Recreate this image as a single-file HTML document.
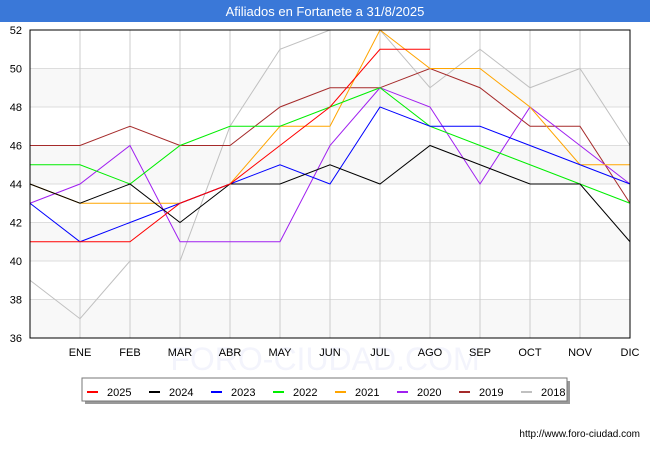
<!DOCTYPE html>
<html><head><meta charset="utf-8"><style>
body{margin:0;background:#fff;font-family:"Liberation Sans",sans-serif}
</style></head><body>
<svg id="c" width="650" height="450" xmlns="http://www.w3.org/2000/svg" style="font-family:'Liberation Sans',sans-serif">
<rect x="0" y="0" width="650" height="22" fill="#3a78d8"/>
<text x="325" y="16" text-anchor="middle" font-size="13" fill="#fff">Afiliados en Fortanete a 31/8/2025</text>
<g id="grid"></g>
<text x="325" y="370" text-anchor="middle" font-size="32" fill="#f3f4fc">FORO-CIUDAD.COM</text>
<g id="labels"></g>
<g id="lines"></g>
<rect x="30" y="30" width="600" height="308" fill="none" stroke="#000" stroke-width="1"/>
<rect x="85" y="381" width="485" height="23" fill="#999"/>
<rect x="82" y="378" width="485" height="23" fill="#fff" stroke="#777"/>
<g id="legend"></g>
<text x="640" y="437" text-anchor="end" font-size="10" fill="#000">http://www.foro-ciudad.com</text>
</svg>
<script>
const months=["","ENE","FEB","MAR","ABR","MAY","JUN","JUL","AGO","SEP","OCT","NOV","DIC"];
const yTicks=[36,38,40,42,44,46,48,50,52];
const seriesNames=["2025","2024","2023","2022","2021","2020","2019","2018"];
const seriesColors=["#ff0000","#000000","#0000ff","#00ee00","#ffa500","#a020f0","#a52a2a","#c0c0c0"];
const s2025=[41,41,41,43,44,46,48,51,51];
const s2024=[44,43,44,42,44,44,45,44,46,45,44,44,41];
const s2023=[43,41,42,43,44,45,44,48,47,47,46,45,44];
const s2022=[45,45,44,46,47,47,48,49,47,46,45,44,43];
const s2021=[44,43,43,43,44,47,47,52,50,50,48,45,45];
const s2020=[43,44,46,41,41,41,46,49,48,44,48,46,44];
const s2019=[46,46,47,46,46,48,49,49,50,49,47,47,43];
const s2018=[39,37,40,40,47,51,52,52,49,51,49,50,46];
const allSeries=[s2025,s2024,s2023,s2022,s2021,s2020,s2019,s2018];
const NS="http://www.w3.org/2000/svg";
const x=i=>30+i*50;
const y=v=>338-(v-36)*308/16;
function mk(t,a,p){const e=document.createElementNS(NS,t);for(const k in a)e.setAttribute(k,a[k]);p.appendChild(e);return e;}
const g=document.getElementById('grid');
const lb=document.getElementById('labels');
for(let i=0;i<yTicks.length-1;i+=2){const b=mk('rect',{x:30,y:y(yTicks[i+1]),width:600,height:y(yTicks[i])-y(yTicks[i+1]),fill:'#f8f8f8'},g);

}
yTicks.forEach(v=>{const l=mk('line',{x1:30,x2:630,y1:y(v),y2:y(v),stroke:'#ddd'},g);


const t=mk('text',{x:22,y:y(v)+4,'text-anchor':'end','font-size':11},lb);t.textContent=v;

});
months.forEach((m,i)=>{if(i>0){const l=mk('line',{x1:x(i),x2:x(i),y1:30,y2:338,stroke:'#ccc'},g);


const t=mk('text',{x:x(i),y:356,'text-anchor':'middle','font-size':11},lb);t.textContent=m;

}});
const L=document.getElementById('lines');
for(let s=allSeries.length-1;s>=0;s--){const p=mk('polyline',{points:allSeries[s].map((v,i)=>x(i)+','+y(v)).join(' '),fill:'none',stroke:seriesColors[s],'stroke-width':1},L);

}
const lg=document.getElementById('legend');
seriesNames.forEach((n,i)=>{const bx=87+i*62;
const l=mk('line',{x1:bx,x2:bx+11,y1:392,y2:392,stroke:seriesColors[i],'stroke-width':2},lg);


const t=mk('text',{x:bx+20,y:396,'font-size':11},lg);t.textContent=n;

});
</script>
</body></html>
